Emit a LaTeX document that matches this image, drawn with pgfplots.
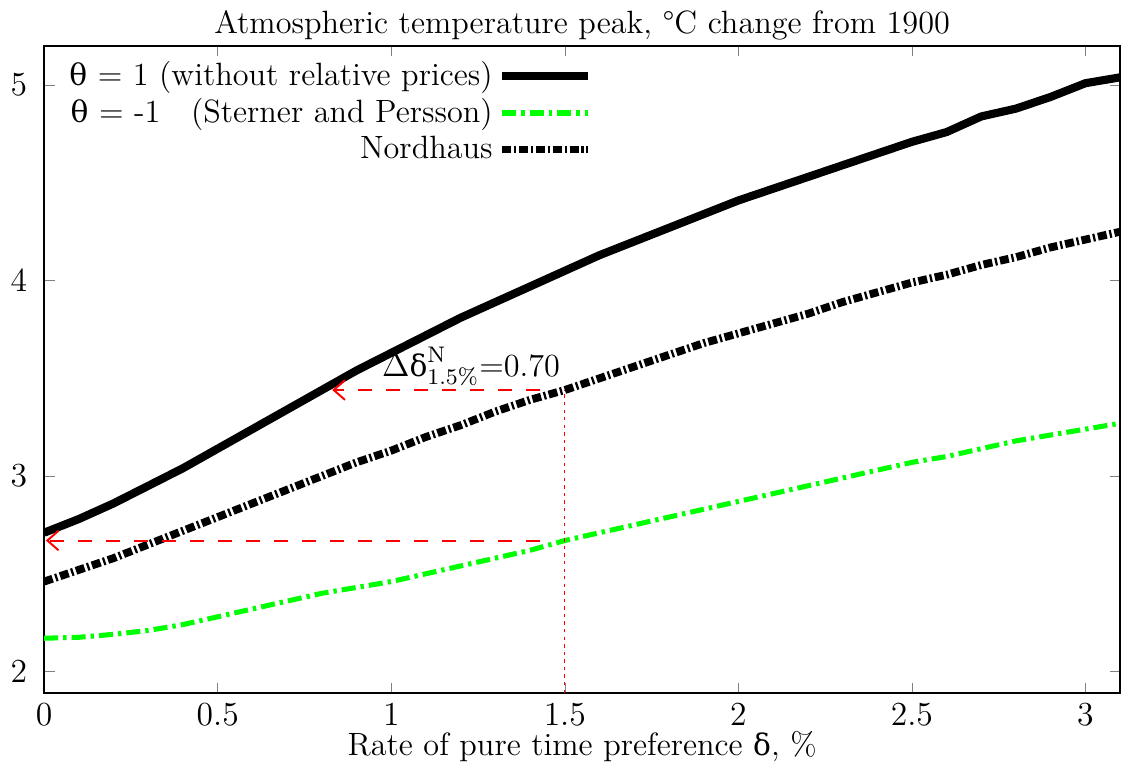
\documentclass[border=0pt]{standalone}
\usepackage{fontspec}
\newfontfamily\grk{DejaVu Serif}[Scale=0.92]
\usepackage{pgfplots}
\pgfplotsset{compat=1.18}
\usetikzlibrary{arrows.meta}
\definecolor{gpgreen}{HTML}{00FF00}

\pgfplotstableread{
x theta1 nord sterner
0.0 2.71 2.46 2.17
0.1 2.78 2.52 2.175
0.2 2.86 2.58 2.19
0.3 2.95 2.65 2.21
0.4 3.04 2.72 2.24
0.5 3.14 2.79 2.28
0.6 3.24 2.86 2.32
0.7 3.34 2.93 2.36
0.8 3.44 3.00 2.40
0.9 3.54 3.07 2.43
1.0 3.63 3.13 2.46
1.1 3.72 3.20 2.50
1.2 3.81 3.26 2.54
1.3 3.89 3.33 2.58
1.4 3.97 3.39 2.62
1.5 4.05 3.44 2.67
1.6 4.13 3.50 2.71
1.7 4.20 3.56 2.75
1.8 4.27 3.62 2.79
1.9 4.34 3.68 2.83
2.0 4.41 3.73 2.87
2.1 4.47 3.78 2.91
2.2 4.53 3.83 2.95
2.3 4.59 3.89 2.99
2.4 4.65 3.94 3.03
2.5 4.71 3.99 3.07
2.6 4.76 4.03 3.10
2.7 4.84 4.08 3.14
2.8 4.88 4.12 3.18
2.9 4.94 4.17 3.21
3.0 5.01 4.21 3.24
3.1 5.04 4.25 3.27
}\peakdata

\begin{document}
\fontsize{11.5}{14}\selectfont
\begin{tikzpicture}
\begin{axis}[
  scale only axis,
  width=13.49cm, height=8.11cm,
  xmin=0, xmax=3.1, ymin=1.89, ymax=5.2,
  xtick={0,0.5,1,1.5,2,2.5,3},
  ytick={2,3,4,5},
  tick align=inside,
  major tick length=0.13cm,
  axis line style={line width=0.6pt},
  yticklabel style={xshift=-2pt},
  title={Atmospheric temperature peak, °C change from 1900},
  title style={yshift=-8pt},
  xlabel={Rate of pure time preference {\grk δ}, \%},
  xlabel style={yshift=6pt},
  legend style={at={(0.01,0.995)},anchor=north west,draw=none,fill=none,
    row sep=-1pt},
  legend cell align=right,
  legend plot pos=right,
  legend image code/.code={\draw[#1] (0.12cm,0cm) -- (1.2cm,0cm);},
]
\addplot[black,line width=2.9pt] table[x=x,y=theta1] {\peakdata};
\addlegendentry{{\grk θ} = 1 (without relative prices)}
\addplot[gpgreen,line width=1.8pt,dash pattern=on 5pt off 1.8pt on 1.2pt off 1.8pt] table[x=x,y=sterner] {\peakdata};
\addlegendentry{{\grk θ} = -1\hspace{0.95em}(Sterner and Persson)}
\addplot[black,line width=2.8pt,dash pattern=on 3.2pt off 1pt on 0.8pt off 1pt] table[x=x,y=nord] {\peakdata};
\addlegendentry{Nordhaus}

\draw[red,line width=0.7pt,dash pattern=on 5pt off 5pt,-{Straight Barb[length=4pt,width=7pt]}]
  (axis cs:1.43,2.67) -- (axis cs:0.005,2.67);
\draw[red,line width=0.7pt,dash pattern=on 5pt off 5pt,-{Straight Barb[length=4pt,width=7pt]}]
  (axis cs:1.43,3.44) -- (axis cs:0.83,3.44);
\draw[red,line width=0.5pt,dash pattern=on 1.2pt off 1.5pt]
  (axis cs:1.5,1.89) -- (axis cs:1.5,3.44);
\node at (axis cs:1.23,3.56) {$\Delta\mbox{\grk δ}^{\mathrm{N}}_{1.5\%}$=0.70};
\end{axis}
\end{tikzpicture}
\end{document}
